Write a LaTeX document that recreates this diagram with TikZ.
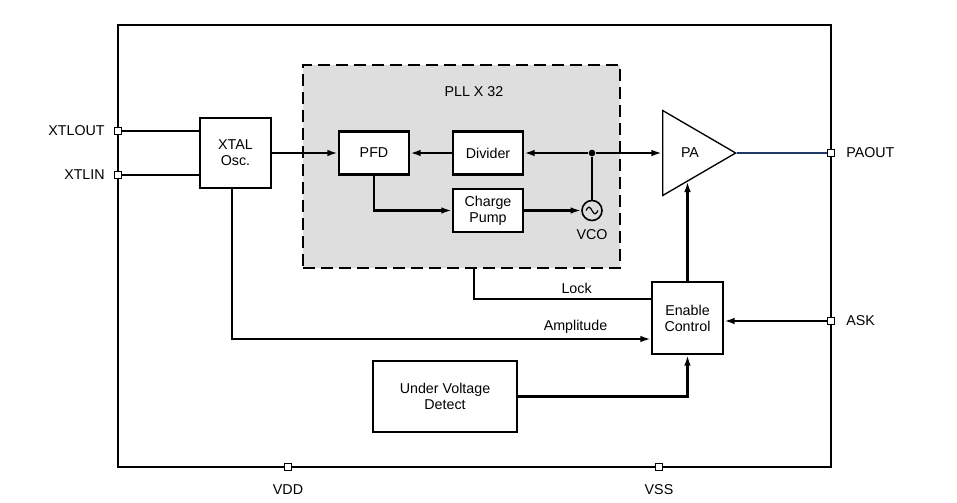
\documentclass[tikz,border=0pt]{standalone}
\usepackage{fontspec}
\setmainfont{Liberation Sans}
\usepackage{tikz}
\usetikzlibrary{shapes.geometric, arrows.meta, positioning, calc}
\definecolor{pllgray}{HTML}{DEDEDE}
\definecolor{navyline}{HTML}{1F3864}

\begin{document}
\begin{tikzpicture}[x=0.75pt, y=-0.75pt, line width=1.6pt, >={Latex[length=8pt,width=5pt]}, font=\fontsize{10.7}{12}\selectfont]
\tikzstyle{block} = [rectangle, draw=black, fill=white, text centered, align=center, inner sep=0pt]
\tikzstyle{padbox} = [rectangle, draw=black, fill=white, line width=1.1pt, minimum size=5.6pt, inner sep=0pt]

\useasboundingbox (0,0) rectangle (957,503);

\node (chip) [rectangle, draw, minimum width=534.75pt, minimum height=331.5pt] at (474.5,246) {};
\node (pll) [rectangle, draw, dash pattern=on 9pt off 4.5pt, fill=pllgray, minimum width=237.75pt, minimum height=152.25pt] at (461.5,166.5) {};
\node (plllabel) at (474,92) {PLL X 32};

\node (xtal) [block, minimum width=53.25pt, minimum height=52.5pt] at (235.5,153) {XTAL\\Osc.};
\node (pfd) [block, minimum width=52.5pt, minimum height=32.25pt] at (374,153) {PFD};
\node (divider) [block, minimum width=52.5pt, minimum height=32.25pt] at (488,153) {Divider};
\node (pump) [block, minimum width=52.5pt, minimum height=32.25pt] at (488,210.5) {Charge\\Pump};
\node (vco) [circle, draw, line width=1.2pt, minimum size=15pt, inner sep=0pt] at (592,210.5) {};
\node (vcolabel) [below=2pt of vco] {VCO};
\node (junc) [circle, fill=black, minimum size=5pt, inner sep=0pt] at (592,153) {};
\node (pa) [isosceles triangle, isosceles triangle stretches, draw, line width=1pt, minimum width=63.75pt, minimum height=54.75pt, inner sep=0pt, anchor=lower side] at (662,153) {};
\node (palabel) at (690,153) {PA};
\node (enable) [block, minimum width=53.25pt, minimum height=54pt] at (687.5,318) {Enable\\Control};
\node (uvd) [block, minimum width=108pt, minimum height=53.25pt] at (445,396.5) {Under Voltage\\Detect};

\draw[line width=0.9pt] ([xshift=-4.5pt]vco.center) sin ++(2.25pt,2.5pt) cos ++(2.25pt,-2.5pt) sin ++(2.25pt,-2.5pt) cos ++(2.25pt,2.5pt);

\node (xtlout) [padbox] at (118,131) {};
\node (xtlin) [padbox] at (118,175) {};
\node (paout) [padbox] at (831,153) {};
\node (ask) [padbox] at (831,321) {};
\node (vdd) [padbox] at (288,467) {};
\node (vss) [padbox] at (659,467) {};
\node [left=2.5pt of xtlout] {XTLOUT};
\node [left=2.5pt of xtlin] {XTLIN};
\node [right=4pt of paout] {PAOUT};
\node [right=4pt of ask] {ASK};
\node [below=6pt of vdd] {VDD};
\node [below=6pt of vss] {VSS};

\draw (xtlout) -- (xtlout -| xtal.west);
\draw (xtlin) -- (xtlin -| xtal.west);
\draw[->] (xtal) -- (pfd);
\draw[->] (divider) -- (pfd);
\draw[->] (junc) -- (divider);
\draw[->] (junc) -- (pa.lower side);
\draw (vco) -- (junc);
\draw[->] (pfd.south) |- (pump.west);
\draw[->] (pump) -- (vco);
\draw[navyline] (pa.apex) -- (paout);
\draw[->] (ask) -- (ask -| enable.east);
\coordinate (paedge) at ($(pa.right corner)!0.35!(pa.apex)$);
\draw[->] (enable) -- (enable |- paedge);
\draw (pll.south -| plllabel) |- ([yshift=14.25pt]enable.west) node[pos=0.79, above] {Lock};
\draw[->] ([xshift=-2.6pt]xtal.south) |- ([yshift=-15.75pt]enable.west) node[pos=0.91, above] {Amplitude};
\draw[->] (uvd.east) -| (enable.south);

\end{tikzpicture}
\end{document}
